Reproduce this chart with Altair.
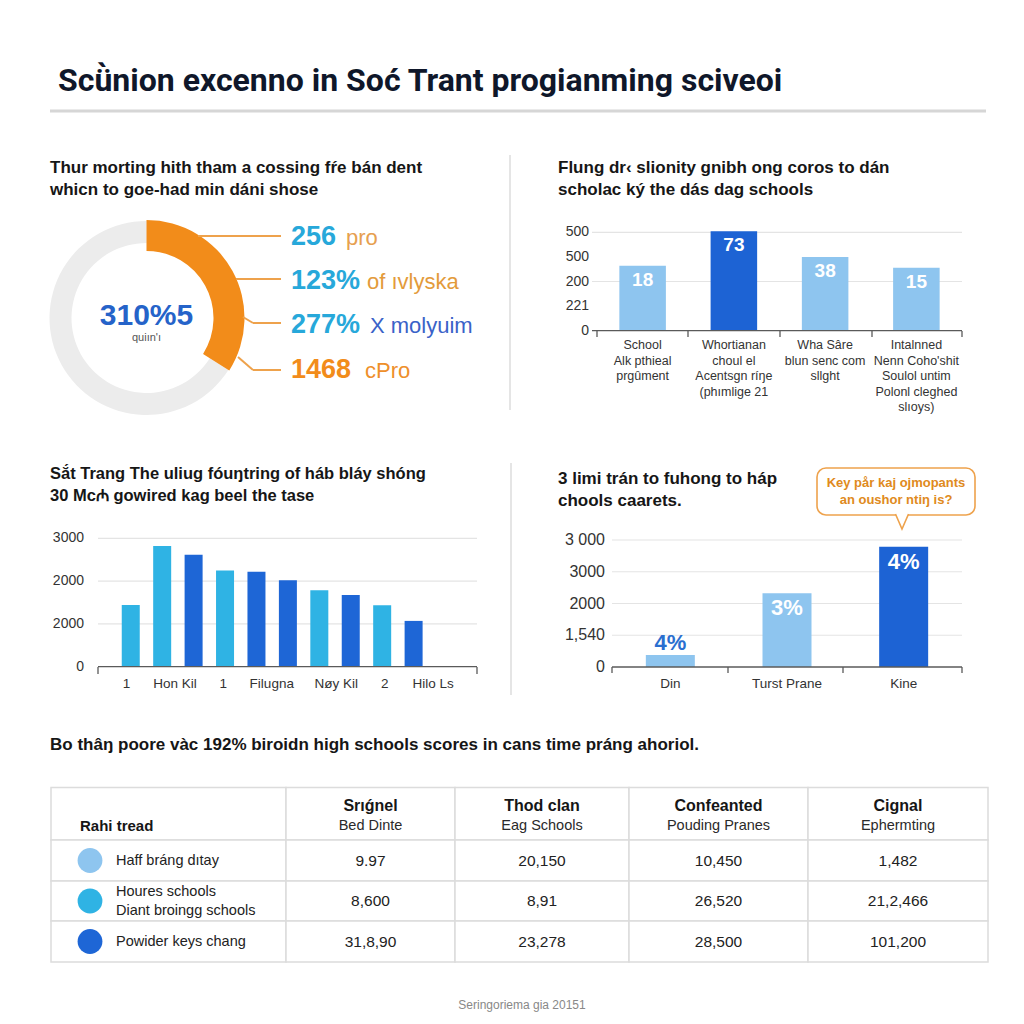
import altair as alt
import pandas as pd

# ------------------------------------------------------------------ data
title_text = "Scǜnion excenno in Soć Trant progianming sciveoi"

donut_subtitle = ["Thur morting hith tham a cossing fŕe bán dent", "whicn to goe-had min dáni shose"]
donut_segments = ["highlight", "rest"]
donut_shares = [0.34, 0.66]
donut_big = "310%5"
donut_small = "quiın'ı"
callout_nums = ["256", "123%", "277%", "1468"]
callout_words = ["pro", "of ıvlyska", "X molyuim", "cPro"]

bar1_subtitle = ["Flung dr‹ slionity gnibh ong coros to dán", "scholac ký the dás dag schools"]
bar1_cats = ["School\nAlk pthieal\nprgûment",
             "Whortianan\nchoul el\nAcentsgn ríŋe\n(phımlige 21",
             "Wha Sâre\nblun senc com\nsllght",
             "Intalnned\nNenn Coho'shit\nSoulol untim\nPolonl cleghed\nslıoys)"]
bar1_values = [66, 101, 75, 64]
bar1_labels = ["18", "73", "38", "15"]
bar1_groups = ["light", "dark", "light", "light"]
bar1_ticks = [0, 25, 50, 75, 100]
bar1_tick_labels = ["0", "221", "200", "500", "500"]
bar1_grid = [50, 100]

bar2_subtitle = ["Sắt Trang The uliug fóuŋtring of háb bláy shóng", "30 Mc₼ gowired kag beel the tase"]
bar2_index = [1, 2, 3, 4, 5, 6, 7, 8, 9, 10]
bar2_values = [1440, 2820, 2615, 2245, 2220, 2020, 1785, 1675, 1435, 1070]
bar2_groups = ["cyan", "cyan", "blue", "cyan", "blue", "blue", "cyan", "blue", "cyan", "blue"]
bar2_ticks = [0, 1000, 2000, 3000]
bar2_tick_labels = ["0", "2000", "2000", "3000"]
bar2_xlabels = ["1", "Hon Kil", "1", "Filugna", "Nøy Kil", "2", "Hilo Ls"]
bar2_xlabel_at = [1, 2.5, 4, 5.5, 7.5, 9, 10.5]

bar3_subtitle = ["3 limi trán to fuhong to háp", "chools caarets."]
bar3_cats = ["Din", "Turst Prane", "Kine"]
bar3_values = [0.38, 2.32, 3.79]
bar3_labels = ["4%", "3%", "4%"]
bar3_groups = ["light", "light", "dark"]
bar3_ticks = [0, 1, 2, 3, 4]
bar3_tick_labels = ["0", "1,540", "2000", "3000", "3 000"]
bar3_note = ["Key pår kaj ojmopants", "an oushor ntiŋ is?"]

table_heading = "Bo thâŋ poore vàc 192% biroidn high schools scores in cans time práng ahoriol."
table_corner = "Rahi tread"
table_heads = ["Srıǵnel", "Thod clan", "Confeanted", "Cignal"]
table_subheads = ["Bed Dinte", "Eag Schools", "Pouding Pranes", "Ephermting"]
table_rows = ["Haff bráng dıtay", "Houres schools\nDiant broingg schools", "Powider keys chang"]
table_row_groups = ["light", "cyan", "blue"]
table_values = [["9.97", "20,150", "10,450", "1,482"],
                ["8,600", "8,91", "26,520", "21,2,466"],
                ["31,8,90", "23,278", "28,500", "101,200"]]
footer_text = "Seringoriema gia 20151"

# ------------------------------------------------------------------ styles
BODY = "Liberation Sans"
TITLE_FONT = "Roboto"
INK = "#161616"
AXIS_TXT = "#333333"
GRID = "#e4e4e4"
BASE = "#5a5a5a"
LIGHT = "#8ec5ef"
DARK = "#1d63d4"
CYAN = "#2fb3e4"
BLUE = "#1e66d6"
ORANGE = "#f28c1a"
ORANGE_SOFT = "#eea24c"
TEAL = "#27a8da"

layers = []


def one():
    return pd.DataFrame({"k": [0]})


def vtext(text, x, y, size, color=INK, weight="normal", align="left",
          baseline="middle", font=BODY, line_height=None):
    kw = dict(align=align, baseline=baseline, fontSize=size, fontWeight=weight,
              color=color, font=font)
    if "\n" in text:
        kw.update(lineBreak="\n", lineHeight=line_height or round(size * 1.35, 1))
    return alt.Chart(pd.DataFrame({"t": [text]})).mark_text(**kw).encode(
        x=alt.value(x), y=alt.value(y), text="t:N")


def seg(x1, y1, x2, y2, color, width):
    return alt.Chart(one()).mark_rule(color=color, strokeWidth=width).encode(
        x=alt.value(x1), y=alt.value(y1), x2=alt.value(x2), y2=alt.value(y2))


# ------------------------------------------------------------------ title
layers.append(vtext(title_text, 58, 81, 32, color="#0f172a", weight="bold", font=TITLE_FONT))
layers.append(seg(50, 111, 986, 111, "#d6d6d6", 3))

# ------------------------------------------------------------------ donut panel
layers.append(vtext("\n".join(donut_subtitle), 50, 173, 17, weight="bold",
                    baseline="alphabetic", line_height=22))
donut_df = pd.DataFrame({"segment": donut_segments, "share": donut_shares})
theta = alt.Theta("share:Q", stack=True, scale=alt.Scale(domain=[0, 1]))
layers.append(alt.Chart(donut_df).mark_arc(innerRadius=75, outerRadius=97, color="#ececec")
              .encode(theta=theta, x=alt.value(146.5), y=alt.value(318)))
layers.append(alt.Chart(donut_df).transform_filter(alt.datum.segment == "highlight")
              .mark_arc(innerRadius=67, outerRadius=98, color=ORANGE)
              .encode(theta=theta, x=alt.value(146.5), y=alt.value(318)))
layers.append(vtext(donut_big, 146.5, 316, 30, color="#2563c9", weight="bold", align="center"))
layers.append(vtext(donut_small, 146.5, 338, 11, color="#555555", align="center"))

# leader lines
for a in [(198, 236, 281, 236), (236, 279, 281, 279), (243, 317, 253, 323), (253, 323, 281, 323),
          (238, 357, 253, 370), (253, 370, 281, 370)]:
    layers.append(seg(*a, ORANGE_SOFT, 2))

num_colors = [TEAL, TEAL, TEAL, ORANGE]
word_colors = ["#e6a050", "#e39b3b", "#3a62c8", "#ee8f2a"]
row_y = [237, 281, 325, 370]
word_x = [346, 367, 370, 365]
for n, w, cn, cw, yy, wx in zip(callout_nums, callout_words, num_colors, word_colors, row_y, word_x):
    layers.append(vtext(n, 291, yy, 27, color=cn, weight="bold"))
    layers.append(vtext(w, wx, yy + 1, 22, color=cw))

# ------------------------------------------------------------------ dividers
layers.append(seg(510, 155, 510, 410, "#dddddd", 1.5))
layers.append(seg(511, 463, 511, 695, "#dddddd", 1.5))

# ------------------------------------------------------------------ bar panel 1 (top right)
layers.append(vtext("\n".join(bar1_subtitle), 558, 173, 17, weight="bold",
                    baseline="alphabetic", line_height=22))
b1 = pd.DataFrame({"cat": bar1_cats, "value": bar1_values, "label": bar1_labels, "group": bar1_groups})
s1x = alt.Scale(domain=bar1_cats, range=[597, 962], paddingInner=0.49, paddingOuter=0.245)
s1y = alt.Scale(domain=[0, 100], range=[330.7, 232.3], nice=False)
layers.append(alt.Chart(pd.DataFrame({"v": bar1_grid})).mark_rule(color=GRID, strokeWidth=1.2)
              .encode(y=alt.Y("v:Q", scale=s1y, axis=None), x=alt.value(592), x2=alt.value(962)))
layers.append(alt.Chart(pd.DataFrame({"v": bar1_ticks, "lab": bar1_tick_labels}))
              .mark_text(align="right", baseline="middle", fontSize=14, color=AXIS_TXT, font=BODY)
              .encode(y=alt.Y("v:Q", scale=s1y, axis=None), x=alt.value(589), text="lab:N"))
layers.append(alt.Chart(b1).mark_bar().encode(
    x=alt.X("cat:N", sort=None, scale=s1x, axis=None),
    y=alt.Y("value:Q", scale=s1y, axis=None),
    color=alt.Color("group:N", scale=alt.Scale(domain=["light", "dark"], range=[LIGHT, DARK]), legend=None)))
layers.append(alt.Chart(b1).mark_text(dy=14, baseline="middle", color="white", fontSize=19,
                                      fontWeight="bold", font=BODY)
              .encode(x=alt.X("cat:N", sort=None, scale=s1x, axis=None),
                      y=alt.Y("value:Q", scale=s1y, axis=None), text="label:N"))
layers.append(alt.Chart(one()).mark_rule(color=BASE, strokeWidth=1.3).encode(
    y=alt.Y(datum=0, type="quantitative", scale=s1y, axis=None), x=alt.value(592), x2=alt.value(962)))
for tx in [597, 688, 780, 872, 962]:
    layers.append(seg(tx, 331, tx, 337, BASE, 1.3))
layers.append(alt.Chart(b1).mark_text(baseline="top", lineBreak="\n", lineHeight=15.5, fontSize=12.5,
                                      color=AXIS_TXT, font=BODY)
              .encode(x=alt.X("cat:N", sort=None, scale=s1x, axis=None), y=alt.value(339), text="cat:N"))

# ------------------------------------------------------------------ bar panel 2 (middle left)
layers.append(vtext("\n".join(bar2_subtitle), 50, 479, 16.5, weight="bold",
                    baseline="alphabetic", line_height=22))
b2 = pd.DataFrame({"idx": bar2_index, "value": bar2_values, "group": bar2_groups})
s2x = alt.Scale(domain=[0.117, 11.858], range=[98, 477], nice=False, zero=False)
s2y = alt.Scale(domain=[0, 3000], range=[666.7, 538.3], nice=False)
layers.append(alt.Chart(pd.DataFrame({"v": bar2_ticks[1:]})).mark_rule(color=GRID, strokeWidth=1.2)
              .encode(y=alt.Y("v:Q", scale=s2y, axis=None), x=alt.value(98), x2=alt.value(477)))
layers.append(alt.Chart(pd.DataFrame({"v": bar2_ticks, "lab": bar2_tick_labels}))
              .mark_text(align="right", baseline="middle", fontSize=14, color=AXIS_TXT, font=BODY)
              .encode(y=alt.Y("v:Q", scale=s2y, axis=None), x=alt.value(84), text="lab:N"))
layers.append(alt.Chart(b2).mark_bar(size=18).encode(
    x=alt.X("idx:Q", scale=s2x, axis=None),
    y=alt.Y("value:Q", scale=s2y, axis=None),
    color=alt.Color("group:N", scale=alt.Scale(domain=["cyan", "blue"], range=[CYAN, BLUE]), legend=None)))
layers.append(alt.Chart(one()).mark_rule(color=BASE, strokeWidth=1.3).encode(
    y=alt.Y(datum=0, type="quantitative", scale=s2y, axis=None), x=alt.value(98), x2=alt.value(477)))
for tx in [98, 477]:
    layers.append(seg(tx, 667, tx, 674, BASE, 1.3))
layers.append(alt.Chart(pd.DataFrame({"lab": bar2_xlabels, "at": bar2_xlabel_at}))
              .mark_text(baseline="middle", fontSize=13.5, color=AXIS_TXT, font=BODY)
              .encode(x=alt.X("at:Q", scale=s2x, axis=None), y=alt.value(684), text="lab:N"))

# ------------------------------------------------------------------ bar panel 3 (middle right)
layers.append(vtext("\n".join(bar3_subtitle), 558, 484, 17, weight="bold",
                    baseline="alphabetic", line_height=22))
layers.append(alt.Chart(one()).mark_rect(cornerRadius=9, fill="white", stroke=ORANGE_SOFT, strokeWidth=1.6)
              .encode(x=alt.value(817), x2=alt.value(975), y=alt.value(468), y2=alt.value(515)))
layers.append(alt.Chart(one()).mark_point(shape="M-0.87,-1L0,1L0.87,-1", size=225, filled=True,
                                          fill="white", stroke=ORANGE_SOFT, strokeWidth=1.6, opacity=1)
              .encode(x=alt.value(902), y=alt.value(521.5)))
layers.append(vtext("\n".join(bar3_note), 896, 487, 13, color="#e08a20", weight="bold",
                    align="center", baseline="alphabetic", line_height=16.5))
b3 = pd.DataFrame({"cat": bar3_cats, "value": bar3_values, "label": bar3_labels, "group": bar3_groups})
s3x = alt.Scale(domain=bar3_cats, range=[612, 962], paddingInner=0.58, paddingOuter=0.29)
s3y = alt.Scale(domain=[0, 4], range=[667, 540], nice=False)
layers.append(alt.Chart(pd.DataFrame({"v": bar3_ticks[1:]})).mark_rule(color=GRID, strokeWidth=1.2)
              .encode(y=alt.Y("v:Q", scale=s3y, axis=None), x=alt.value(612), x2=alt.value(962)))
layers.append(alt.Chart(pd.DataFrame({"v": bar3_ticks, "lab": bar3_tick_labels}))
              .mark_text(align="right", baseline="middle", fontSize=16, color=AXIS_TXT, font=BODY)
              .encode(y=alt.Y("v:Q", scale=s3y, axis=None), x=alt.value(605), text="lab:N"))
x3 = alt.X("cat:N", sort=None, scale=s3x, axis=None)
y3 = alt.Y("value:Q", scale=s3y, axis=None)
layers.append(alt.Chart(b3).mark_bar().encode(
    x=x3, y=y3,
    color=alt.Color("group:N", scale=alt.Scale(domain=["light", "dark"], range=[LIGHT, DARK]), legend=None)))
layers.append(alt.Chart(b3).transform_filter(alt.datum.value < 1)
              .mark_text(dy=-12, baseline="middle", color="#2a6fd0", fontSize=22, fontWeight="bold", font=BODY)
              .encode(x=x3, y=y3, text="label:N"))
layers.append(alt.Chart(b3).transform_filter(alt.datum.value >= 1)
              .mark_text(dy=15, baseline="middle", color="white", fontSize=22, fontWeight="bold", font=BODY)
              .encode(x=x3, y=y3, text="label:N"))
layers.append(alt.Chart(one()).mark_rule(color=BASE, strokeWidth=1.3).encode(
    y=alt.Y(datum=0, type="quantitative", scale=s3y, axis=None), x=alt.value(612), x2=alt.value(962)))
for tx in [612, 728, 843, 962]:
    layers.append(seg(tx, 667, tx, 673, BASE, 1.3))
layers.append(alt.Chart(b3).mark_text(baseline="middle", fontSize=13.5, color=AXIS_TXT, font=BODY)
              .encode(x=x3, y=alt.value(684), text="cat:N"))

# ------------------------------------------------------------------ table
layers.append(vtext(table_heading, 50, 745, 17, weight="bold", font=BODY))
tx_s = alt.Scale(domain=[-0.5, 0.5, 1.5, 2.5, 3.5, 4.5], range=[51, 286, 455, 629, 808, 988],
                 nice=False, zero=False)
ty_s = alt.Scale(domain=[-0.5, 0.5, 1.5, 2.5, 3.5], range=[787.5, 840, 881, 921, 962],
                 nice=False, zero=False)
cells = pd.DataFrame([{"r": r, "c": c} for r in range(len(table_rows) + 1)
                      for c in range(len(table_heads) + 1)])
layers.append(alt.Chart(cells)
              .transform_calculate(x0="datum.c - 0.5", x1="datum.c + 0.5",
                                   y0="datum.r - 0.5", y1="datum.r + 0.5")
              .mark_rect(fill="white", stroke="#dcdcdc", strokeWidth=1.5)
              .encode(x=alt.X("x0:Q", scale=tx_s, axis=None), x2="x1:Q",
                      y=alt.Y("y0:Q", scale=ty_s, axis=None), y2="y1:Q"))
layers.append(vtext(table_corner, 80, 826, 15, weight="bold"))
heads = pd.DataFrame({"c": list(range(1, len(table_heads) + 1)), "h": table_heads, "s": table_subheads})
layers.append(alt.Chart(heads).mark_text(baseline="middle", fontSize=16, fontWeight="bold", color=INK, font=BODY)
              .encode(x=alt.X("c:Q", scale=tx_s, axis=None), y=alt.value(806), text="h:N"))
layers.append(alt.Chart(heads).mark_text(baseline="middle", fontSize=14.5, color="#2a2a2a", font=BODY)
              .encode(x=alt.X("c:Q", scale=tx_s, axis=None), y=alt.value(826), text="s:N"))
rows = pd.DataFrame({"r": list(range(1, len(table_rows) + 1)), "name": table_rows, "group": table_row_groups})
layers.append(alt.Chart(rows).mark_circle(size=615, opacity=1).encode(
    x=alt.value(90), y=alt.Y("r:Q", scale=ty_s, axis=None),
    color=alt.Color("group:N", scale=alt.Scale(domain=["light", "cyan", "blue"], range=[LIGHT, CYAN, BLUE]),
                    legend=None)))
single = "indexof(datum.name, '\\n') < 0"
multi = "indexof(datum.name, '\\n') >= 0"
layers.append(alt.Chart(rows).transform_filter(single)
              .mark_text(align="left", baseline="middle", fontSize=14.5, color="#222222", font=BODY)
              .encode(x=alt.value(116), y=alt.Y("r:Q", scale=ty_s, axis=None), text="name:N"))
layers.append(alt.Chart(rows).transform_filter(multi)
              .mark_text(align="left", baseline="middle", fontSize=14.5, color="#222222", font=BODY,
                         lineBreak="\n", lineHeight=19, dy=-9.5)
              .encode(x=alt.value(116), y=alt.Y("r:Q", scale=ty_s, axis=None), text="name:N"))
vals = pd.DataFrame([{"r": r + 1, "c": c + 1, "v": table_values[r][c]}
                     for r in range(len(table_values)) for c in range(len(table_values[r]))])
layers.append(alt.Chart(vals).mark_text(baseline="middle", fontSize=15.5, color="#222222", font=BODY)
              .encode(x=alt.X("c:Q", scale=tx_s, axis=None), y=alt.Y("r:Q", scale=ty_s, axis=None),
                      text="v:N"))

# ------------------------------------------------------------------ footer
layers.append(vtext(footer_text, 522, 1005, 12, color="#888888", align="center"))

chart = (alt.layer(*layers)
         .resolve_scale(x="independent", y="independent", color="independent", theta="independent")
         .properties(width=1024, height=1024, padding=0, background="white",
                     autosize=alt.AutoSizeParams(type="none"))
         .configure_view(stroke=None))

chart.save("out.html", embed_options={"renderer": "svg", "actions": False})
